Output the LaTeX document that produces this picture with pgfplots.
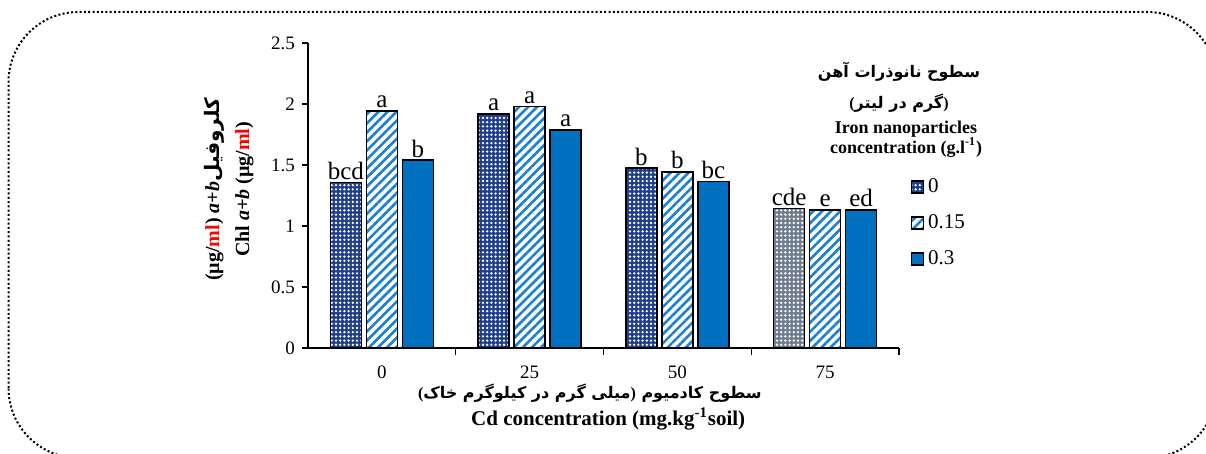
\documentclass[border=0pt]{standalone}
\usepackage{fontspec}
\setmainfont{Liberation Serif}
\newfontfamily\arabicfont[Script=Arabic]{DejaVu Sans}
\TeXXeTstate=1
\usepackage{pgfplots}
\pgfplotsset{compat=1.18}
\usetikzlibrary{patterns.meta}
\definecolor{navybar}{HTML}{1F3F8A}
\definecolor{greybar}{HTML}{6F7C8E}
\definecolor{stripeblue}{HTML}{1C80D2}
\definecolor{solidblue}{HTML}{0070C0}
\tikzset{
  dotfill/.style={fill=#1, postaction={pattern={Dots[distance=2.1pt,radius=0.65pt]}, pattern color=white}},
  stripefill/.style={fill=white, postaction={pattern={Lines[angle=45,distance=3.2pt,line width=1.3pt]}, pattern color=stripeblue}},
}
% parentheses in the Latin font so they are not mirrored
\newcommand{\lp}{{\rmfamily\bfseries(}}
\newcommand{\rp}{{\rmfamily\bfseries)}}
\begin{document}
\begin{tikzpicture}
\path[use as bounding box] (0,0) rectangle (603pt,227pt);
\draw[line width=1pt, dash pattern=on 1pt off 1.15pt, rounded corners=35pt] (4.25pt,-2pt) rectangle (608.5pt,221pt);
\begin{axis}[
  at={(154pt,53pt)}, anchor=south west,
  scale only axis, width=295.5pt, height=152.5pt,
  ybar, bar width=15.5pt,
  ymin=0, ymax=2.5, ytick={0,0.5,...,2.5},
  xmin=-0.5, xmax=3.5,
  xtick={0,1,2,3}, xticklabels={0,25,50,75},
  minor xtick={0.5,1.5,2.5,3.5},
  major x tick style={draw=none},
  tick align=outside,
  major tick length=3pt, minor tick length=3.5pt,
  tick style={black, line width=0.6pt},
  axis x line*=bottom, axis y line*=left,
  axis line style={-, line width=0.6pt},
  ticklabel style={font=\fontsize{9.5}{11}\selectfont},
  x tick label style={yshift=-2.5pt},
  /pgf/number format/assume math mode=true,
  point meta=explicit symbolic,
  nodes near coords,
  every node near coord/.append style={font=\fontsize{12.5}{14}\selectfont, inner sep=1pt, black},
  clip=false,
  legend image code/.code={\draw[#1,/tikz/.cd,line width=0.8pt] (0pt,-3pt) rectangle (6pt,3pt);},
  legend style={at={(1.019,0.57)}, anchor=north west, draw=none, fill=none, inner sep=0pt,
    row sep=5.5pt, font=\fontsize{10.5}{12}\selectfont, legend cell align=left},
]
\addplot[draw=black, line width=0.8pt, dotfill=navybar, bar shift=-18pt] coordinates {
  (0,1.355) [bcd] (1,1.918) [a] (2,1.473) [b]
};
\addplot[draw=black, line width=0.8pt, stripefill, bar shift=0pt] coordinates {
  (0,1.945) [a] (1,1.978) [a] (2,1.445) [b] (3,1.131) [e]
};
\addplot[draw=black, line width=0.8pt, fill=solidblue, bar shift=18pt] coordinates {
  (0,1.54) [b] (1,1.787) [a] (2,1.366) [bc] (3,1.131) [ed]
};
\addplot[forget plot, draw=black, line width=0.8pt, dotfill=greybar, bar shift=-18pt] coordinates {
  (3,1.145) [cde]
};
\legend{0,0.15,0.3}
\node[font=\fontsize{8}{10}\selectfont\arabicfont\bfseries] at (axis description cs:1.0,0.905) {\beginR سطوح نانوذرات آهن\endR};
\node[font=\fontsize{8}{10}\selectfont\arabicfont\bfseries] at (axis description cs:1.0,0.803) {\lp\beginR گرم در لیتر\endR\rp};
\node[font=\fontsize{9}{10}\selectfont\bfseries, align=center] at (axis description cs:1.012,0.684) {Iron nanoparticles\\concentration (g.l\textsuperscript{-1})};
\node[font=\fontsize{10}{15}\selectfont\bfseries, align=center, rotate=90] at (axis description cs:-0.134,0.52)
  {(µg/\textcolor{red}{ml}) \textit{a+b}{\arabicfont\beginR کلروفیل\endR}\\Chl \textit{a+b} (µg/\textcolor{red}{ml})};
\node[font=\fontsize{8}{11}\selectfont\arabicfont\bfseries] at (axis description cs:0.477,-0.148)
  {\lp\beginR میلی گرم در کیلوگرم خاک\endR\rp\ \beginR سطوح کادمیوم\endR};
\node[font=\fontsize{10.5}{12}\selectfont\bfseries] at (axis description cs:0.508,-0.233) {Cd concentration (mg.kg\textsuperscript{-1}soil)};
\end{axis}
\end{tikzpicture}
\end{document}
